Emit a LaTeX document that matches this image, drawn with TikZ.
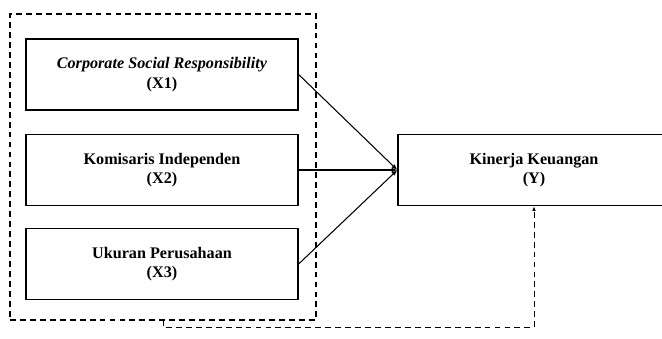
\documentclass[tikz,border=0pt]{standalone}
\usepackage{fontspec}
\setmainfont{Liberation Serif}
\usetikzlibrary{arrows.meta}

\begin{document}
\begin{tikzpicture}[x=0.3mm, y=-0.3mm]
    % ===================================
    % settings
    % ===================================
    \def\bw{272}  % box width
    \def\bh{71}   % box height

    \tikzset{
        var/.style={draw, line width=1.1pt, minimum width=\bw*0.3mm, minimum height=\bh*0.3mm,
                    align=center, font=\fontsize{13.8}{16.5}\selectfont\bfseries, inner sep=0pt},
        grp/.style={draw, line width=1pt, dash pattern=on 5pt off 3.5pt,
                    minimum width=306*0.3mm, minimum height=306*0.3mm, inner sep=0pt},
        link/.style={line width=0.9pt, -{Latex[length=5pt,width=4pt]}},
        back/.style={line width=0.8pt, dash pattern=on 5pt off 3.5pt, -{Latex[length=4pt,width=3pt]}}
    }
    % ===================================
    \useasboundingbox (0,0) rectangle (662,339);

    % 1. independent variables
    \node[grp] (group) at (163, 167) {};
    \node[var] (x1) at (162, 74.5) {\textit{Corporate Social Responsibility}\\(X1)};
    \node[var] (x2) at (162, 170) {Komisaris Independen\\(X2)};
    \node[var] (x3) at (162, 264) {Ukuran Perusahaan\\(X3)};

    % 2. dependent variable
    \node[var] (y) at (534, 170) {Kinerja Keuangan\\(Y)};

    % 3. arrows
    \foreach \x in {x1, x2, x3} {
        \draw[link] (\x.east) -- (y.west);
    }

    % simultaneous effect
    \draw[back] (group.south) -- ++(0,7) -| (y.south);

\end{tikzpicture}
\end{document}
